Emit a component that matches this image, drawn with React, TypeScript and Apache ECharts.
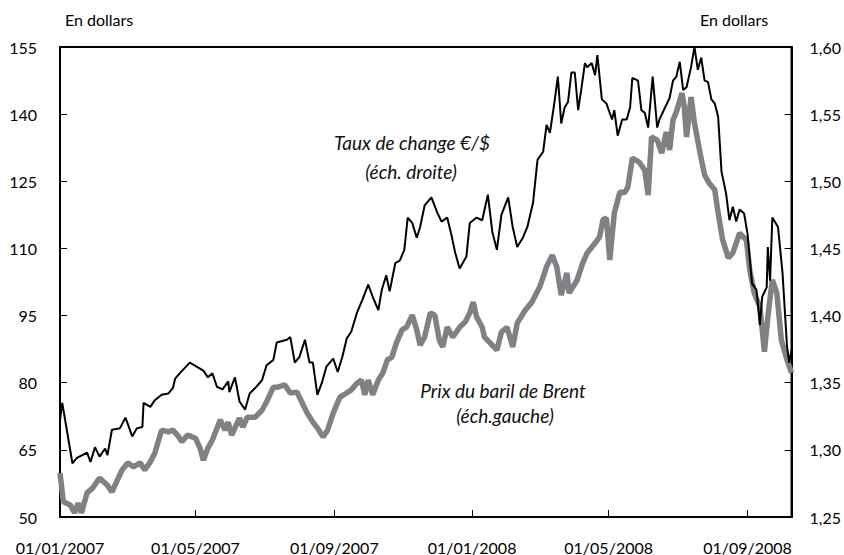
import React, { useEffect, useRef } from "react";
import * as echarts from "echarts";

// x values: days since 01/01/2007
const tickDays = [0, 120, 243, 365, 486, 609];
const tickLabels = ["01/01/2007", "01/05/2007", "01/09/2007", "01/01/2008", "01/05/2008", "01/09/2008"];
const leftTicks = [50, 65, 80, 95, 110, 125, 140, 155];
const rightTicks = [1.25, 1.3, 1.35, 1.4, 1.45, 1.5, 1.55, 1.6];

// Taux de change €/$ (right scale)
const rateDays = [
  0, 2, 11, 15, 24, 27, 31, 35, 40, 42, 46, 53, 58, 64, 68, 73, 74, 80, 84, 90, 96, 100, 102, 106, 115, 121, 127, 131, 135,
  139, 144, 149, 150, 155, 159, 164, 168, 174, 179, 183, 189, 192, 201, 204, 208, 212, 217, 221, 224, 228, 232, 236, 242,
  246, 250, 254, 258, 263, 268, 273, 277, 282, 285, 289, 292, 297, 301, 305, 308, 312, 316, 319, 323, 329, 334, 338, 343,
  347, 350, 354, 360, 363, 369, 374, 379, 383, 387, 391, 397, 401, 405, 410, 414, 419, 423, 428, 431, 434, 438, 441, 444,
  447, 450, 453, 456, 459, 462, 465, 467, 471, 474, 476, 480, 484, 489, 491, 494, 498, 502, 505, 507, 512, 515, 518, 521,
  525, 529, 531, 536, 540, 543, 546, 549, 552, 555, 559, 562, 565, 568, 571, 574, 577, 580, 583, 586, 590, 593, 596, 599,
  602, 606, 609, 613, 617, 620, 622, 626, 627, 629, 631, 636, 640, 644, 646, 648,
];
const rateValues = [
  1.322, 1.335, 1.29, 1.294, 1.298, 1.291, 1.302, 1.295, 1.301, 1.296, 1.315, 1.316, 1.324, 1.31, 1.316, 1.317, 1.335,
  1.332, 1.337, 1.341, 1.342, 1.346, 1.353, 1.357, 1.365, 1.362, 1.359, 1.354, 1.357, 1.347, 1.345, 1.351, 1.343, 1.354,
  1.336, 1.33, 1.342, 1.347, 1.352, 1.363, 1.367, 1.38, 1.382, 1.384, 1.365, 1.369, 1.382, 1.365, 1.365, 1.341, 1.35,
  1.362, 1.368, 1.358, 1.369, 1.383, 1.388, 1.402, 1.412, 1.423, 1.414, 1.404, 1.419, 1.43, 1.418, 1.439, 1.441, 1.449,
  1.473, 1.469, 1.458, 1.466, 1.482, 1.488, 1.477, 1.47, 1.473, 1.459, 1.447, 1.435, 1.444, 1.469, 1.473, 1.471, 1.49,
  1.462, 1.449, 1.475, 1.488, 1.466, 1.451, 1.458, 1.466, 1.484, 1.516, 1.522, 1.542, 1.536, 1.559, 1.578, 1.543, 1.555,
  1.559, 1.581, 1.581, 1.553, 1.57, 1.588, 1.585, 1.588, 1.579, 1.594, 1.561, 1.558, 1.546, 1.553, 1.534, 1.546, 1.546,
  1.555, 1.577, 1.575, 1.553, 1.551, 1.54, 1.578, 1.54, 1.546, 1.555, 1.562, 1.575, 1.578, 1.589, 1.568, 1.57, 1.585,
  1.6, 1.583, 1.592, 1.575, 1.574, 1.561, 1.558, 1.548, 1.507, 1.491, 1.471, 1.481, 1.47, 1.479, 1.476, 1.461, 1.424,
  1.419, 1.393, 1.414, 1.421, 1.451, 1.426, 1.473, 1.466, 1.432, 1.377, 1.365, 1.374,
];

// Prix du baril de Brent (left scale)
const brentDays = [
  0, 3, 9, 13, 16, 19, 24, 29, 35, 42, 46, 50, 55, 60, 65, 71, 75, 80, 84, 90, 96, 100, 104, 108, 113, 120, 124, 127, 131,
  135, 142, 146, 149, 152, 157, 159, 162, 166, 173, 179, 183, 189, 193, 199, 204, 210, 212, 219, 224, 228, 233, 237, 242,
  248, 254, 258, 263, 267, 270, 273, 277, 282, 286, 290, 294, 298, 303, 307, 312, 316, 319, 323, 328, 332, 336, 339, 343,
  348, 354, 359, 363, 366, 369, 374, 376, 381, 387, 391, 396, 401, 405, 412, 418, 422, 425, 431, 436, 440, 444, 449, 451,
  458, 463, 467, 474, 478, 481, 484, 487, 491, 496, 500, 503, 507, 513, 518, 521, 524, 529, 533, 537, 540, 543, 546, 551,
  553, 555, 559, 562, 567, 571, 575, 580, 583, 587, 592, 596, 599, 602, 608, 611, 615, 620, 624, 627, 631, 635, 639, 644,
  648,
];
const brentValues = [
  59.8, 53.4, 52.7, 50.9, 53.1, 50.9, 55.4, 56.5, 58.7, 57.1, 55.6, 57.8, 60.5, 62.1, 61.2, 62.1, 60.5, 62.3, 64.3, 69.4,
  69.0, 69.4, 68.3, 66.8, 68.3, 67.6, 65.4, 62.7, 65.4, 67.2, 71.7, 69.4, 71.2, 68.3, 71.0, 72.1, 70.1, 72.3, 72.3, 73.9,
  75.7, 79.0, 79.0, 79.5, 77.7, 77.9, 76.8, 73.2, 71.2, 69.9, 67.9, 69.4, 73.2, 76.8, 77.7, 78.4, 79.9, 80.6, 77.3, 80.6,
  77.3, 80.6, 82.2, 85.1, 85.7, 88.9, 91.8, 92.4, 95.1, 91.8, 88.4, 90.2, 95.6, 95.1, 89.5, 88.0, 92.4, 90.2, 92.4, 93.6,
  95.6, 98.0, 94.7, 92.4, 90.2, 88.9, 87.3, 91.3, 92.4, 88.0, 93.3, 96.2, 98.0, 100.0, 101.4, 105.9, 108.5, 105.9, 99.6,
  104.5, 100.0, 102.9, 106.7, 109.0, 111.2, 112.6, 116.4, 116.8, 107.4, 117.9, 122.6, 122.4, 123.7, 130.2, 129.3, 127.5,
  121.9, 134.9, 134.2, 131.3, 136.0, 132.0, 138.7, 140.5, 144.7, 141.6, 134.9, 143.8, 138.0, 131.3, 126.4, 124.6, 123.1,
  117.9, 111.9, 107.9, 109.0, 111.2, 113.4, 111.9, 105.2, 100.0, 96.9, 86.9, 94.7, 103.0, 100.0, 89.5, 85.1, 82.2,
];

const FONT = "Lato";

export default function App() {
  const ref = useRef<HTMLDivElement>(null);
  useEffect(() => {
    if (!ref.current) return;
    const chart = echarts.init(ref.current, undefined, { renderer: "svg" });
    const rateData = rateDays.map((d, i) => [d, rateValues[i]]);
    const brentData = brentDays.map((d, i) => [d, brentValues[i]]);
    const note = (text: string, x: number, y: number) => ({
      type: "text",
      x,
      y,
      style: {
        text,
        fontSize: 19,
        fontStyle: "italic",
        fontFamily: FONT,
        fill: "#111",
        align: "center",
        verticalAlign: "middle",
      },
    });
    chart.setOption({
      animation: false,
      backgroundColor: "#ffffff",
      textStyle: { fontFamily: FONT },
      grid: {
        left: 60,
        right: 52,
        top: 47,
        bottom: 38,
        show: true,
        borderColor: "#000",
        borderWidth: 2,
        backgroundColor: "transparent",
      },
      xAxis: {
        type: "value",
        min: 0,
        max: 648,
        axisLine: { show: true, lineStyle: { color: "#000", width: 2 } },
        axisTick: { show: true, inside: true, length: 7, customValues: tickDays, lineStyle: { color: "#000", width: 1 } },
        axisLabel: {
          customValues: tickDays,
          margin: 22,
          fontSize: 16,
          color: "#000",
          fontFamily: FONT,
          formatter: (v: number) => {
            const i = tickDays.indexOf(Math.round(v));
            return i >= 0 ? tickLabels[i] : "";
          },
        },
        splitLine: { show: false },
      },
      yAxis: [
        {
          type: "value",
          min: 50,
          max: 155,
          position: "left",
          axisLine: { show: true, lineStyle: { color: "#000", width: 2 } },
          axisTick: { show: true, inside: true, length: 7, customValues: leftTicks, lineStyle: { color: "#000", width: 1 } },
          axisLabel: { customValues: leftTicks, margin: 23, fontSize: 16, color: "#000", fontFamily: FONT },
          splitLine: { show: false },
        },
        {
          type: "value",
          min: 1.25,
          max: 1.6,
          position: "right",
          axisLine: { show: true, lineStyle: { color: "#000", width: 2 } },
          axisTick: { show: true, inside: true, length: 7, customValues: rightTicks, lineStyle: { color: "#000", width: 1 } },
          axisLabel: {
            customValues: rightTicks,
            margin: 18,
            fontSize: 16,
            color: "#000",
            fontFamily: FONT,
            formatter: (v: number) => v.toFixed(2).replace(".", ","),
          },
          splitLine: { show: false },
        },
      ],
      series: [
        {
          name: "Prix du baril de Brent",
          type: "line",
          yAxisIndex: 0,
          data: brentData,
          showSymbol: false,
          symbol: "none",
          lineStyle: { color: "#808085", width: 5.5 },
          z: 2,
        },
        {
          name: "Taux de change €/$",
          type: "line",
          yAxisIndex: 1,
          data: rateData,
          showSymbol: false,
          symbol: "none",
          lineStyle: { color: "#000", width: 2 },
          z: 3,
        },
      ],
      graphic: [
        { type: "text", left: 65, top: 11, style: { text: "En dollars", fontSize: 16, fontFamily: FONT, fill: "#000" } },
        { type: "text", left: 700, top: 11, style: { text: "En dollars", fontSize: 16, fontFamily: FONT, fill: "#000" } },
        note("Taux de change €/$", 412, 142),
        note("(éch. droite)", 411, 171),
        note("Prix du baril de Brent", 503, 390),
        note("(éch.gauche)", 505, 415),
      ],
    });
    return () => chart.dispose();
  }, []);
  return <div ref={ref} style={{ width: 844, height: 555, position: "absolute", left: 0, top: 0 }} />;
}
